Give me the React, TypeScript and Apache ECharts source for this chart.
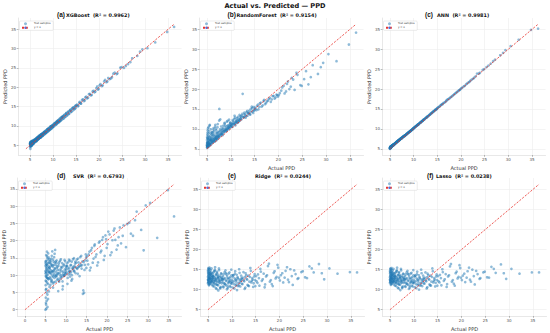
import React, { useEffect, useRef } from "react";
import * as echarts from "echarts";

// Actual PPD values of the test samples (shared by all models)
const actual = [
  5.0, 5.0, 5.02, 5.05, 5.08, 5.1, 5.12, 5.15, 5.18, 5.2, 5.25, 5.3, 5.33, 5.38, 5.42, 5.47, 5.5, 5.55, 5.6, 5.66, 5.7, 5.76, 5.82, 5.88, 5.95,
  6.0, 6.05, 6.12, 6.2, 6.28, 6.35, 6.42, 6.5, 6.58, 6.65, 6.72, 6.8, 6.88, 6.95, 7.02, 7.1, 7.18, 7.26, 7.35, 7.44, 7.52, 7.6, 7.72, 7.84, 7.95,
  8.05, 8.15, 8.26, 8.38, 8.5, 8.62, 8.74, 8.86, 8.98, 9.1, 9.22, 9.34, 9.46, 9.58, 9.7, 9.8, 9.9, 9.98,
  10.1, 10.22, 10.35, 10.48, 10.6, 10.72, 10.85, 10.98, 11.1, 11.24, 11.38, 11.5, 11.64, 11.78, 11.92,
  12.1, 12.3, 12.5, 12.7, 12.9, 13.1, 13.3, 13.5, 13.7, 13.9, 14.1, 14.3, 14.5, 14.7, 14.9,
  15.2, 15.5, 15.8, 16.1, 16.5, 16.9, 17.2, 17.6, 18.0, 18.4, 18.8, 19.2, 19.6, 19.9,
  20.3, 20.8, 21.3, 21.8, 22.3, 22.8, 23.4, 24.0, 24.6,
  25.4, 26.3, 27.2, 28.3, 29.4,
  30.5, 32.2, 34.8, 36.3,
  5.03, 5.07, 5.14, 5.22, 5.35, 5.45, 5.62, 5.8, 6.08, 6.25, 6.46, 6.62, 6.84, 7.05, 7.3, 7.56, 7.8, 8.1, 8.45, 8.8, 9.15, 9.5, 9.85, 10.3, 10.9, 11.45, 12.2, 12.8, 13.6, 14.4,
  5.01, 5.04, 5.06, 5.09, 5.11, 5.13, 5.16, 5.19, 5.21, 5.24, 5.27, 5.31, 5.36, 5.4, 5.44, 5.49, 5.53, 5.58, 5.64, 5.68, 5.73, 5.79, 5.85, 5.91, 5.98,
  6.03, 6.1, 6.16, 6.23, 6.31, 6.38, 6.44, 6.53, 6.6, 6.68, 6.76, 6.83, 6.91, 6.99, 7.07, 7.14, 7.22, 7.31, 7.4, 7.48, 7.57, 7.66, 7.76, 7.88, 7.98,
  8.08, 8.2, 8.32, 8.44, 8.56, 8.68, 8.8, 8.92, 9.04, 9.16, 9.28, 9.4, 9.52, 9.64, 9.76, 9.94,
  10.05, 10.18, 10.4, 10.55, 10.66, 10.8, 10.94, 11.05, 11.2, 11.32, 11.55, 11.7, 11.84, 11.97,
  12.0, 12.25, 12.45, 12.62, 12.85, 13.05, 13.25, 13.45, 13.8, 14.0, 14.2, 14.6, 14.8, 14.95,
  15.1, 15.4, 15.7, 16.0, 16.3, 16.7, 17.0, 17.4, 17.8, 18.2, 18.6, 19.0, 19.4, 19.75,
  20.1, 20.6, 21.1, 21.6, 22.0, 22.6, 23.1, 23.8,
  24.9, 25.8, 26.8, 28.9,
];

const predXGBoost = [
  5.3, 4.6, 5.5, 5.1, 4.9, 5.6, 5.0, 5.4, 5.9, 4.8, 5.5, 5.2, 5.7, 5.0, 5.8, 5.3, 6.1, 5.4, 5.2, 6.0, 5.5, 5.9, 5.6, 6.3, 5.8,
  6.4, 5.8, 6.5, 6.0, 6.7, 6.2, 6.9, 6.3, 7.0, 6.5, 7.1, 6.6, 7.4, 6.8, 7.3, 6.9, 7.6, 7.0, 7.8, 7.2, 7.9, 7.3, 8.1, 7.6, 8.3,
  8.3, 7.9, 8.6, 8.1, 8.8, 8.4, 9.1, 8.6, 9.3, 8.9, 9.5, 9.1, 9.8, 9.3, 10.0, 9.6, 10.2, 9.8,
  10.4, 9.9, 10.7, 10.3, 11.0, 10.5, 11.2, 10.8, 11.5, 11.0, 11.8, 11.3, 12.1, 11.6, 12.3,
  12.5, 12.0, 12.9, 12.4, 13.4, 12.8, 13.7, 13.2, 14.1, 13.6, 14.5, 14.0, 14.8, 14.4, 15.2,
  15.5, 15.2, 16.2, 15.8, 16.9, 16.6, 17.6, 17.3, 18.3, 18.0, 19.1, 18.9, 20.2, 19.6,
  20.8, 20.5, 21.9, 21.5, 22.1, 22.6, 23.8, 23.6, 25.1,
  25.0, 26.0, 27.5, 28.1, 29.8,
  30.1, 31.6, 34.3, 35.6,
  5.6, 4.1, 5.2, 5.8, 4.9, 6.0, 5.5, 6.4, 6.2, 6.6, 6.1, 7.0, 6.6, 7.5, 7.0, 7.9, 7.5, 8.5, 8.2, 9.2, 8.9, 9.9, 9.6, 10.6, 11.2, 11.2, 12.6, 13.2, 13.9, 14.8,
  5.4, 5.7, 4.8, 5.5, 5.9, 5.1, 5.6, 4.7, 5.8, 5.3, 6.0, 5.0, 5.7, 5.9, 5.2, 6.2, 5.4, 5.9, 5.5, 6.1, 5.8, 5.4, 6.3, 5.9, 6.2,
  6.3, 6.6, 5.9, 6.5, 6.1, 6.8, 6.3, 6.9, 6.4, 7.1, 6.6, 7.2, 6.7, 7.4, 6.9, 7.5, 7.1, 7.7, 7.2, 7.9, 7.4, 8.0, 7.5, 8.2, 7.8,
  8.4, 7.9, 8.7, 8.2, 8.9, 8.4, 9.2, 8.6, 9.4, 8.9, 9.7, 9.1, 9.9, 9.3, 10.1, 9.7,
  10.3, 10.0, 10.7, 10.3, 11.0, 10.5, 11.3, 10.8, 11.5, 11.0, 11.9, 11.4, 12.2, 11.7,
  12.3, 11.9, 12.8, 12.3, 13.2, 12.7, 13.6, 13.1, 14.2, 13.7, 14.6, 14.3, 15.2, 14.7,
  15.4, 15.1, 16.0, 15.8, 16.7, 16.4, 17.4, 17.1, 18.2, 17.9, 18.9, 18.7, 19.8, 19.4,
  20.5, 20.3, 21.5, 21.3, 22.4, 22.3, 23.5, 23.4,
  25.2, 25.5, 26.5, 29.2,
];

const predRandomForest = [
  6.0, 5.4, 7.2, 5.8, 8.5, 6.3, 5.6, 9.6, 6.8, 5.9, 7.5, 6.1, 10.4, 6.6, 5.7, 8.0, 6.9, 6.2, 11.0, 7.3, 6.5, 8.8, 6.0, 7.1, 9.2,
  7.0, 6.4, 8.2, 7.5, 6.8, 9.8, 7.2, 8.6, 6.9, 7.7, 10.5, 7.4, 8.0, 7.1, 9.0, 7.9, 8.4, 11.2, 7.6, 8.7, 9.3, 15.0, 8.3, 9.5, 8.8,
  8.9, 9.6, 8.4, 10.2, 9.1, 9.8, 11.3, 9.3, 10.0, 9.5, 10.7, 12.0, 9.9, 10.4, 11.0, 10.2, 11.6, 10.5,
  10.8, 11.4, 10.5, 11.9, 11.1, 12.5, 11.3, 10.9, 11.7, 12.2, 11.5, 13.0, 11.9, 12.4, 12.1,
  12.6, 13.4, 18.8, 12.9, 13.7, 12.8, 14.2, 13.3, 13.9, 14.6, 13.6, 14.3, 15.2, 14.0, 14.8,
  15.0, 15.8, 14.9, 16.4, 15.6, 17.0, 16.2, 16.9, 17.5, 16.8, 18.2, 17.6, 18.6, 18.1,
  19.0, 20.4, 18.9, 21.3, 20.0, 22.8, 19.8, 23.6, 21.0,
  22.5, 21.2, 26.0, 23.8, 26.6,
  28.8, 27.0, 31.2, 34.2,
  6.5, 5.2, 7.6, 5.5, 8.9, 6.2, 5.9, 7.8, 6.6, 9.1, 7.3, 6.8, 10.0, 7.5, 8.1, 7.9, 12.4, 8.7, 9.4, 10.8, 9.7, 10.1, 11.5, 11.2, 12.8, 11.6, 13.1, 13.0, 14.0, 15.6,
  5.8, 7.9, 6.4, 5.5, 9.0, 6.7, 7.7, 5.9, 10.1, 6.2, 8.3, 7.0, 5.6, 9.4, 6.5, 7.4, 10.8, 6.0, 8.1, 7.2, 6.3, 9.9, 7.6, 6.9, 8.6,
  7.3, 9.1, 6.6, 8.5, 7.8, 10.2, 7.0, 9.4, 8.1, 7.5, 11.0, 8.3, 7.7, 9.6, 8.9, 7.4, 10.4, 8.2, 9.2, 8.0, 12.1, 8.6, 9.9, 8.4, 10.6,
  9.2, 10.0, 8.7, 10.8, 9.4, 11.5, 9.7, 10.3, 9.6, 11.8, 10.1, 10.9, 10.4, 12.3, 10.7, 11.1,
  11.0, 10.6, 12.2, 11.2, 11.6, 13.3, 11.4, 12.0, 11.8, 12.7, 12.3, 11.9, 13.5, 12.5,
  13.1, 12.4, 13.8, 13.0, 14.1, 13.5, 13.2, 14.5, 14.0, 13.7, 15.0, 14.4, 15.5, 14.6,
  15.3, 14.7, 16.1, 15.5, 16.6, 15.9, 17.3, 16.5, 17.1, 17.8, 17.4, 18.3, 17.9, 18.5,
  18.5, 19.6, 20.8, 19.4, 21.9, 20.6, 22.4, 24.1,
  20.8, 24.5, 23.0, 25.5,
];

const predANN = [
  5.2, 5.0, 5.3, 5.4, 5.1, 5.5, 5.3, 5.2, 5.6, 5.4, 5.5, 5.6, 5.4, 5.7, 5.6, 5.8, 5.7, 5.8, 5.9, 5.8, 6.0, 5.9, 6.1, 6.0, 6.2,
  6.2, 6.3, 6.3, 6.5, 6.5, 6.6, 6.7, 6.7, 6.9, 6.9, 7.0, 7.1, 7.1, 7.2, 7.3, 7.3, 7.5, 7.5, 7.6, 7.7, 7.7, 7.9, 7.9, 8.1, 8.1,
  8.2, 8.3, 8.4, 8.5, 8.7, 8.7, 8.9, 9.0, 9.1, 9.2, 9.4, 9.4, 9.6, 9.7, 9.8, 9.9, 10.1, 10.1,
  10.3, 10.3, 10.5, 10.6, 10.8, 10.8, 11.0, 11.1, 11.2, 11.4, 11.5, 11.6, 11.8, 11.9, 12.0,
  12.3, 12.4, 12.7, 12.8, 13.1, 13.2, 13.5, 13.6, 13.9, 14.0, 14.3, 14.4, 14.7, 14.8, 15.1,
  15.4, 15.6, 16.0, 16.2, 16.6, 17.0, 17.4, 17.7, 18.1, 18.5, 18.9, 19.3, 19.7, 20.0,
  20.4, 20.8, 21.4, 21.8, 22.4, 22.9, 23.9, 24.1, 24.8,
  25.5, 26.4, 27.4, 28.5, 29.8,
  30.8, 32.4, 34.9, 35.2,
  5.1, 5.3, 5.4, 5.5, 5.5, 5.7, 5.8, 6.0, 6.3, 6.4, 6.6, 6.8, 7.0, 7.2, 7.5, 7.7, 8.0, 8.2, 8.6, 9.0, 9.3, 9.6, 10.0, 10.5, 11.0, 11.6, 12.4, 12.9, 13.8, 14.6,
  5.1, 5.2, 5.2, 5.3, 5.4, 5.3, 5.5, 5.4, 5.5, 5.5, 5.6, 5.6, 5.7, 5.7, 5.8, 5.8, 5.8, 5.9, 6.0, 5.9, 6.0, 6.1, 6.1, 6.2, 6.2,
  6.2, 6.4, 6.4, 6.5, 6.6, 6.6, 6.8, 6.8, 6.9, 7.0, 7.0, 7.1, 7.2, 7.3, 7.3, 7.4, 7.5, 7.6, 7.6, 7.7, 7.8, 7.9, 8.0, 8.1, 8.2,
  8.3, 8.4, 8.5, 8.6, 8.8, 8.8, 9.0, 9.1, 9.2, 9.3, 9.5, 9.5, 9.7, 9.8, 9.9, 10.1,
  10.2, 10.4, 10.6, 10.7, 10.8, 11.0, 11.1, 11.2, 11.4, 11.5, 11.7, 11.9, 12.0, 12.1,
  12.2, 12.4, 12.6, 12.8, 13.0, 13.2, 13.4, 13.6, 14.0, 14.2, 14.4, 14.8, 14.9, 15.1,
  15.3, 15.6, 15.9, 16.2, 16.5, 16.8, 17.2, 17.5, 17.9, 18.3, 18.7, 19.1, 19.5, 19.8,
  20.2, 20.7, 21.2, 21.7, 22.1, 22.6, 23.2, 23.9,
  25.0, 25.9, 27.0, 29.1,
];

const predSVR = [
  10.5, 0.0, 12.8, 8.4, 3.5, 14.1, 9.6, 1.5, 11.9, 6.0, 13.2, 2.6, 10.0, 15.5, 7.8, 4.4, 12.2, 9.1, 11.4, 16.3, 8.8, 13.7, 5.3, 10.9, 14.6,
  11.7, 9.4, 13.5, 7.2, 12.6, 10.3, 14.8, 8.6, 11.1, 16.9, 9.9, 12.4, 7.6, 13.9, 10.6, 15.2, 9.2, 11.8, 17.3, 8.1, 12.9, 10.2, 14.3, 8.7, 11.5,
  9.0, 12.7, 8.4, 13.8, 10.1, 8.9, 14.6, 11.2, 9.5, 12.3, 6.8, 10.4, 13.1, 9.8, 11.6, 14.0, 10.3, 12.0,
  10.8, 13.4, 7.5, 11.9, 10.2, 14.5, 11.3, 9.6, 12.8, 11.0, 13.9, 8.9, 12.2, 11.7, 14.9,
  12.5, 10.6, 13.6, 11.8, 14.8, 12.4, 9.7, 13.2, 15.6, 12.9, 4.6, 13.8, 11.5, 14.3, 15.1,
  14.2, 16.0, 11.4, 17.2, 13.6, 18.5, 15.3, 12.8, 19.4, 16.6, 20.2, 14.4, 21.5, 17.9,
  22.6, 15.8, 20.1, 23.5, 17.4, 21.0, 19.2, 24.4, 18.1,
  25.2, 21.4, 28.4, 23.1, 30.2,
  30.9, 20.8, 34.6, 27.0,
  13.5, 5.8, 11.0, 0.3, 9.2, 15.0, 3.1, 12.5, 10.8, 14.0, 8.0, 13.0, 6.4, 11.3, 13.6, 9.6, 12.1, 5.4, 10.7, 11.9, 8.2, 9.9, 10.5, 12.6, 11.1, 10.0, 13.3, 12.1, 12.7, 4.9,
  11.2, 7.1, 13.9, 9.8, 2.0, 12.4, 15.8, 8.2, 10.7, 5.0, 13.0, 11.6, 16.8, 9.3, 12.9, 0.8, 14.4, 10.2, 7.4, 13.5, 11.0, 15.1, 9.0, 12.1, 6.6,
  12.2, 10.7, 14.2, 9.0, 13.3, 11.4, 8.3, 15.6, 10.9, 12.8, 9.5, 14.5, 11.3, 8.0, 13.0, 10.0, 16.2, 12.0, 9.7, 14.0, 11.0, 13.6, 9.9, 12.5, 10.4,
  10.6, 13.3, 8.1, 11.5, 14.2, 9.4, 12.4, 10.0, 13.5, 5.9, 11.0, 12.8, 9.9, 14.4, 10.9, 12.6,
  11.5, 12.6, 9.2, 13.8, 10.9, 12.1, 14.2, 10.4, 13.0, 8.4, 11.9, 14.6, 12.5, 11.2,
  11.1, 13.9, 12.2, 14.5, 10.4, 13.7, 12.6, 15.2, 11.9, 14.0, 5.6, 13.0, 16.0, 12.1,
  15.5, 13.1, 16.8, 12.2, 17.9, 14.8, 18.9, 16.0, 13.7, 19.8, 17.1, 21.0, 15.6, 20.4,
  19.0, 21.8, 16.6, 22.9, 20.2, 18.6, 23.8, 21.4,
  24.8, 22.0, 25.9, 17.2,
];

const predRidge = [
  13.2, 11.6, 14.8, 12.4, 15.2, 12.9, 11.9, 14.1, 13.6, 12.2, 15.0, 13.0, 11.4, 14.5, 12.7, 13.8, 12.0, 14.3, 13.4, 11.8, 12.6, 15.3, 13.1, 12.3, 14.0,
  12.8, 10.9, 13.5, 12.1, 14.6, 11.5, 13.0, 15.6, 12.4, 10.4, 13.7, 12.0, 14.2, 11.2, 12.9, 13.3, 9.8, 12.5, 14.9, 11.7, 13.1, 12.2, 10.7, 13.9, 12.6,
  11.9, 13.4, 10.6, 12.7, 14.4, 11.3, 12.3, 13.8, 10.1, 12.9, 11.6, 14.0, 12.1, 10.9, 13.2, 11.8, 15.0, 12.5,
  12.0, 10.5, 13.6, 11.4, 12.8, 14.6, 11.0, 12.4, 9.9, 13.1, 11.7, 12.6, 14.2, 10.8, 12.2,
  11.5, 13.0, 12.3, 10.2, 14.1, 12.7, 11.2, 13.5, 12.0, 15.4, 11.8, 12.9, 10.7, 13.3, 12.4,
  12.1, 13.8, 11.0, 14.5, 12.6, 10.6, 13.3, 15.9, 12.0, 11.4, 14.2, 12.8, 16.2, 13.0,
  13.6, 11.8, 14.7, 12.5, 15.1, 11.2, 13.9, 12.9, 14.4,
  13.1, 15.8, 14.3, 16.4, 12.6,
  15.3, 14.0, 14.4, 14.3,
  14.2, 12.5, 13.7, 11.1, 15.5, 12.8, 13.9, 12.1, 13.4, 11.9, 14.7, 12.6, 11.3, 13.8, 12.2, 10.3, 13.0, 12.4, 11.6, 14.1, 10.8, 12.9, 11.5, 13.6, 12.0, 11.1, 12.7, 13.2, 10.9, 12.5,
  12.5, 14.6, 11.8, 13.4, 15.4, 12.1, 13.9, 11.3, 14.4, 12.8, 13.1, 15.1, 11.7, 12.6, 14.0, 13.3, 11.5, 14.9, 12.3, 13.6, 12.0, 14.2, 11.2, 13.0, 12.7,
  13.4, 11.6, 14.3, 12.5, 10.8, 13.1, 15.0, 12.2, 11.4, 13.8, 12.7, 10.2, 14.5, 12.0, 13.2, 11.1, 12.8, 15.3, 11.8, 13.5, 10.5, 12.4, 14.1, 11.6, 13.0,
  12.6, 10.8, 13.9, 11.5, 12.9, 14.8, 11.1, 12.2, 13.4, 10.4, 12.7, 11.9, 14.3, 12.3, 10.7, 13.6,
  11.6, 13.2, 12.1, 10.3, 14.0, 12.5, 11.3, 13.7, 12.9, 10.9, 15.1, 11.8, 12.4, 13.5,
  12.8, 11.4, 14.4, 12.1, 10.5, 13.6, 12.5, 11.0, 13.2, 14.7, 12.2, 11.6, 13.9, 10.9,
  13.4, 11.7, 12.9, 15.2, 12.2, 14.0, 11.3, 13.6, 16.5, 12.4, 10.9, 14.6, 13.2, 15.5,
  12.3, 14.1, 13.0, 15.6, 11.9, 13.4, 14.8, 12.7,
  14.6, 12.9, 15.3, 14.1,
];

const predLasso = [
  13.1, 11.7, 14.7, 12.4, 15.1, 12.9, 12.0, 14.1, 13.5, 12.2, 14.9, 13.0, 11.5, 14.4, 12.7, 13.7, 12.1, 14.3, 13.4, 11.9, 12.6, 15.2, 13.1, 12.3, 14.0,
  12.8, 11.0, 13.5, 12.1, 14.5, 11.6, 13.0, 15.5, 12.4, 10.5, 13.6, 12.0, 14.2, 11.3, 12.9, 13.3, 9.9, 12.5, 14.8, 11.7, 13.1, 12.2, 10.8, 13.9, 12.6,
  11.9, 13.4, 10.7, 12.7, 14.3, 11.4, 12.3, 13.8, 10.2, 12.9, 11.6, 14.0, 12.1, 11.0, 13.2, 11.8, 14.9, 12.5,
  12.0, 10.6, 13.5, 11.4, 12.8, 14.5, 11.1, 12.4, 10.0, 13.1, 11.7, 12.6, 14.1, 10.9, 12.2,
  11.6, 13.0, 12.3, 10.3, 14.0, 12.7, 11.3, 13.5, 12.0, 15.3, 11.8, 12.9, 10.8, 13.3, 12.4,
  12.1, 13.7, 11.1, 14.4, 12.6, 10.7, 13.3, 15.8, 12.0, 11.5, 14.1, 12.8, 16.1, 13.0,
  13.5, 11.9, 14.6, 12.5, 15.0, 11.3, 13.9, 12.9, 14.3,
  13.1, 15.7, 14.2, 16.3, 12.7,
  15.2, 14.0, 14.3, 14.3,
  14.1, 12.5, 13.6, 11.2, 15.4, 12.8, 13.8, 12.1, 13.4, 11.9, 14.6, 12.6, 11.4, 13.7, 12.2, 10.4, 13.0, 12.4, 11.7, 14.0, 10.9, 12.9, 11.6, 13.5, 12.0, 11.2, 12.7, 13.1, 11.0, 12.5,
  12.5, 14.5, 11.9, 13.4, 15.3, 12.1, 13.8, 11.4, 14.4, 12.8, 13.1, 15.0, 11.8, 12.6, 14.0, 13.3, 11.6, 14.8, 12.3, 13.6, 12.0, 14.1, 11.3, 13.0, 12.7,
  13.4, 11.7, 14.2, 12.5, 10.9, 13.1, 14.9, 12.2, 11.5, 13.7, 12.7, 10.3, 14.4, 12.0, 13.2, 11.2, 12.8, 15.2, 11.8, 13.5, 10.6, 12.4, 14.0, 11.7, 13.0,
  12.6, 10.9, 13.8, 11.5, 12.9, 14.7, 11.2, 12.2, 13.4, 10.5, 12.7, 11.9, 14.2, 12.3, 10.8, 13.6,
  11.7, 13.2, 12.1, 10.4, 13.9, 12.5, 11.4, 13.6, 12.9, 11.0, 15.0, 11.8, 12.4, 13.5,
  12.8, 11.5, 14.3, 12.1, 10.6, 13.6, 12.5, 11.1, 13.2, 14.6, 12.2, 11.7, 13.8, 11.0,
  13.4, 11.8, 12.9, 15.1, 12.2, 13.9, 11.4, 13.6, 16.4, 12.4, 11.0, 14.5, 13.2, 15.4,
  12.4, 14.0, 13.0, 15.5, 12.0, 13.4, 14.7, 12.7,
  14.5, 13.0, 15.2, 14.1,
];

const panelTags = ["(a)", "(b)", "(c)", "(d)", "(e)", "(f)"];
const panelTitles = [
  "XGBoost  (R² = 0.9962)",
  "RandomForest  (R² = 0.9154)",
  "ANN  (R² = 0.9981)",
  "SVR  (R² = 0.6793)",
  "Ridge  (R² = 0.0244)",
  "Lasso  (R² = 0.0238)",
];
const predictions = [predXGBoost, predRandomForest, predANN, predSVR, predRidge, predLasso];
const ticksMain = [5, 10, 15, 20, 25, 30, 35];
const ticksSVR = [0, 5, 10, 15, 20, 25, 30, 35];
const panelTicks = [ticksMain, ticksMain, ticksMain, ticksSVR, ticksMain, ticksMain];
const mainTitle = "Actual vs. Predicted — PPD";
const legendNames = ["Test samples", "y = x"];

const FONT = "DejaVu Sans";
const TAG_FONT = "Liberation Sans";

const layout = [
  { left: 18.5, top: 18, width: 163, height: 137, tagX: 57, titleX: 66, titleY: 14, xName: false },
  { left: 199.5, top: 18, width: 164, height: 137, tagX: 227.5, titleX: 236.5, titleY: 14, xName: true },
  { left: 382.5, top: 18, width: 163, height: 137, tagX: 425, titleX: 437, titleY: 14, xName: true },
  { left: 17.5, top: 178, width: 164, height: 138, tagX: 57, titleX: 73, titleY: 175, xName: true },
  { left: 200.5, top: 178, width: 164, height: 138, tagX: 228, titleX: 255, titleY: 175, xName: true },
  { left: 382.5, top: 178, width: 164, height: 138, tagX: 427, titleX: 436, titleY: 175, xName: true },
];

export default function App() {
  const ref = useRef<HTMLDivElement>(null);
  useEffect(() => {
    if (!ref.current) return;
    const chart = echarts.init(ref.current, undefined, { renderer: "svg" });
    const grids: any[] = [];
    const xAxes: any[] = [];
    const yAxes: any[] = [];
    const series: any[] = [];
    const legends: any[] = [];
    const graphics: any[] = [
      {
        type: "text",
        x: 275,
        y: 6,
        style: { text: mainTitle, fontFamily: FONT, fontWeight: "bold", fontSize: 6.6, fill: "#111", align: "center", verticalAlign: "middle" },
      },
    ];
    layout.forEach((L, k) => {
      const preds = predictions[k];
      const n = Math.min(actual.length, preds.length);
      const pts: number[][] = [];
      for (let i = 0; i < n; i++) pts.push([actual[i], preds[i]]);
      const all = pts.flat();
      const lo = Math.min(...all);
      const hi = Math.max(...all);
      const pad = (hi - lo) * 0.05;
      const ticks = panelTicks[k];
      grids.push({ left: L.left, top: L.top, width: L.width, height: L.height, containLabel: false });
      const common = {
        type: "value",
        gridIndex: k,
        min: lo - pad,
        max: hi + pad,
        nameLocation: "middle",
        nameTextStyle: { fontFamily: FONT, fontSize: 5, color: "#333" },
        axisLabel: { customValues: ticks, fontFamily: FONT, fontSize: 4, color: "#555", margin: 2.5 },
        axisTick: { show: true, customValues: ticks, length: 1.8, lineStyle: { color: "#777", width: 0.5 } },
        axisLine: { show: true, onZero: false, lineStyle: { color: "#d8d8d8", width: 0.6 } },
        splitLine: { show: true, lineStyle: { color: "#ececec", width: 0.6 } },
      };
      xAxes.push({ ...common, name: L.xName ? "Actual PPD" : "", nameGap: 10 });
      yAxes.push({ ...common, name: "Predicted PPD", nameGap: 11 });
      series.push({
        type: "scatter",
        name: legendNames[0],
        xAxisIndex: k,
        yAxisIndex: k,
        data: pts,
        symbolSize: 2.7,
        itemStyle: { color: "#1f77b4", opacity: 0.5 },
        silent: true,
        z: 2,
      });
      series.push({
        type: "line",
        name: legendNames[1],
        xAxisIndex: k,
        yAxisIndex: k,
        data: [
          [lo, lo],
          [hi, hi],
        ],
        symbol: "none",
        lineStyle: { color: "#e8352e", width: 0.8, type: [2.2, 1.4] },
        silent: true,
        z: 3,
      });
      legends.push({
        left: L.left + 1,
        top: L.top + 3,
        orient: "vertical",
        data: legendNames,
        itemWidth: 7,
        itemHeight: 3,
        itemGap: 1,
        selectedMode: false,
        textStyle: { fontFamily: FONT, fontSize: 2.6, color: "#333" },
        padding: [1.2, 2.5, 1.2, 1.5],
        borderColor: "#cfcfcf",
        borderWidth: 0.4,
        borderRadius: 1,
        backgroundColor: "rgba(255,255,255,0.85)",
      });
      graphics.push({
        type: "text",
        x: L.tagX,
        y: L.titleY,
        style: { text: panelTags[k], fontFamily: TAG_FONT, fontWeight: "bold", fontSize: 6.5, fill: "#111", align: "left", verticalAlign: "middle" },
      });
      graphics.push({
        type: "text",
        x: L.titleX,
        y: L.titleY + 0.5,
        style: { text: panelTitles[k], fontFamily: FONT, fontWeight: "bold", fontSize: 4.9, fill: "#111", align: "left", verticalAlign: "middle" },
      });
    });
    chart.setOption({
      animation: false,
      backgroundColor: "#ffffff",
      grid: grids,
      xAxis: xAxes,
      yAxis: yAxes,
      legend: legends,
      series,
      graphic: graphics,
    });
    return () => chart.dispose();
  }, []);
  return <div ref={ref} style={{ position: "fixed", left: 0, top: 0, width: 550, height: 333 }} />;
}
